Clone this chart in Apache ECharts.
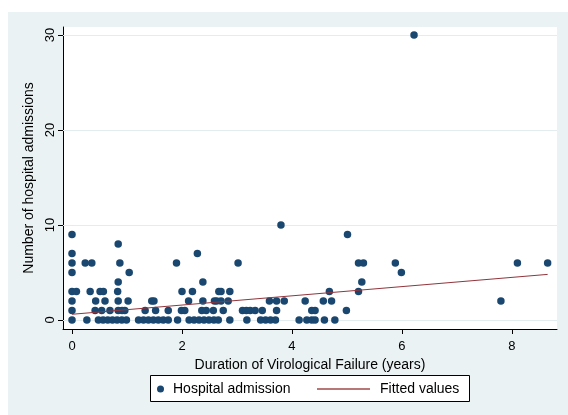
<!DOCTYPE html>
<html><head><meta charset="utf-8">
<script src="https://cdn.jsdelivr.net/npm/echarts@6/dist/echarts.min.js"></script>
<style>html,body{margin:0;padding:0;background:#fff}#c{width:568px;height:415px}</style>
</head><body><div id="c"></div>
<script>
const xTicks = [0, 2, 4, 6, 8];
const yTicks = [0, 10, 20, 30];
const admissionLevels = [0, 1, 2, 3, 4, 5, 6, 7, 8, 9, 10, 30];
const durAt0 = [0, 0.27, 0.48, 0.565, 0.65, 0.735, 0.82, 0.905, 0.99, 1.21, 1.3, 1.39, 1.48, 1.57, 1.66, 1.75, 1.92, 2.13, 2.22, 2.31, 2.4, 2.49, 2.58, 2.66, 2.87, 3.18, 3.43, 3.52, 3.61, 3.7, 4.13, 4.27, 4.36, 4.42, 4.59, 4.78];
const durAt1 = [0, 0.42, 0.54, 0.69, 0.84, 0.91, 0.96, 1.33, 1.52, 1.75, 1.99, 2.05, 2.36, 2.44, 2.57, 2.75, 3.1, 3.17, 3.24, 3.33, 3.46, 3.72, 4.36, 4.42, 4.99];
const durAt2 = [0, 0.43, 0.6, 0.84, 1.02, 1.45, 1.49, 2.12, 2.38, 2.59, 2.63, 2.71, 2.84, 3.59, 3.72, 3.86, 4.24, 4.57, 4.72, 7.8];
const durAt3 = [0, 0.08, 0.33, 0.51, 0.57, 0.83, 2.0, 2.19, 2.67, 2.71, 2.87, 4.68, 5.21];
const durAt4 = [0.84, 2.38, 5.27];
const durAt5 = [0, 1.04, 5.99];
const durAt6 = [0, 0.24, 0.36, 0.87, 1.9, 3.02, 5.21, 5.3, 5.88, 8.1, 8.65];
const durAt7 = [0, 2.28];
const durAt8 = [0.84];
const durAt9 = [0, 5.01];
const durAt10 = [3.8];
const durAt30 = [6.22];
const durationsByLevel = [durAt0, durAt1, durAt2, durAt3, durAt4, durAt5, durAt6, durAt7, durAt8, durAt9, durAt10, durAt30];
const fittedX = [0, 8.65];
const fittedY = [0.6, 4.8];

const scatterData = [];
admissionLevels.forEach((lv, i) => durationsByLevel[i].forEach(x => scatterData.push([x, lv])));
const fittedData = fittedX.map((x, i) => [x, fittedY[i]]);

const FONT = "'Liberation Sans', Arial, Helvetica, sans-serif";
const chart = echarts.init(document.getElementById('c'), null, {renderer: 'canvas'});
chart.setOption({
  backgroundColor: '#ffffff',
  animation: false,
  textStyle: {fontFamily: FONT, color: '#000'},
  graphic: [
    {type: 'rect', z: -10, silent: true, shape: {x: 8, y: 12, width: 560, height: 403}, style: {fill: '#EAF2F3'}},
    {type: 'rect', z: 5, silent: true, shape: {x: 150.5, y: 375.5, width: 319, height: 26}, style: {fill: '#ffffff', stroke: '#000', lineWidth: 1}}
  ],
  grid: {left: 63, right: 11, top: 27, bottom: 86, show: true, backgroundColor: '#ffffff', borderWidth: 0, containLabel: false},
  xAxis: {
    type: 'value', min: -0.164, max: 8.82,
    name: 'Duration of Virological Failure (years)', nameLocation: 'middle', nameGap: 23,
    nameTextStyle: {fontSize: 14, color: '#000', fontFamily: FONT},
    axisLine: {show: true, onZero: false, lineStyle: {color: '#000', width: 1}},
    axisTick: {show: true, length: 5, customValues: xTicks, lineStyle: {color: '#000'}},
    axisLabel: {customValues: xTicks, fontSize: 13, color: '#000', margin: 11, fontFamily: FONT},
    splitLine: {show: false}
  },
  yAxis: {
    type: 'value', min: -0.95, max: 30.84,
    name: 'Number of hospital admissions', nameLocation: 'middle', nameGap: 15, nameRotate: 90,
    nameTextStyle: {fontSize: 14, color: '#000', fontFamily: FONT},
    axisLine: {show: true, onZero: false, lineStyle: {color: '#000', width: 1}},
    axisTick: {show: true, length: 5, customValues: yTicks, lineStyle: {color: '#000'}},
    axisLabel: {customValues: yTicks, fontSize: 13, color: '#000', rotate: 90, margin: 6, fontFamily: FONT},
    splitLine: {show: false}
  },
  legend: [
    {data: ['Hospital admission'], left: 157, top: 382, padding: 0, itemWidth: 7, itemHeight: 7, z: 10,
     textStyle: {fontSize: 14, color: '#000', fontFamily: FONT, padding: [0, 0, 0, 4]}},
    {data: [{name: 'Fitted values', icon: 'rect', itemStyle: {color: '#b87777'}}], left: 317, top: 382, padding: 0, itemWidth: 53, itemHeight: 2, z: 10,
     textStyle: {fontSize: 14, color: '#000', fontFamily: FONT, padding: [0, 0, 0, 5]}}
  ],
  series: [
    {
      type: 'line', name: 'gridlines', data: [], z: 1, silent: true,
      markLine: {silent: true, z: 1, symbol: 'none', label: {show: false},
        lineStyle: {color: '#E3ECEF', width: 1, type: 'solid'},
        data: yTicks.map(v => ({yAxis: v}))}
    },
    {
      type: 'scatter', name: 'Hospital admission', data: scatterData, z: 3,
      symbol: 'circle', symbolSize: 7.5, itemStyle: {color: '#1a476f', opacity: 1}
    },
    {
      type: 'line', name: 'Fitted values', data: fittedData, z: 4,
      symbol: 'none', lineStyle: {color: '#90353b', width: 1}, itemStyle: {color: '#90353b'}
    }
  ]
});
</script></body></html>
